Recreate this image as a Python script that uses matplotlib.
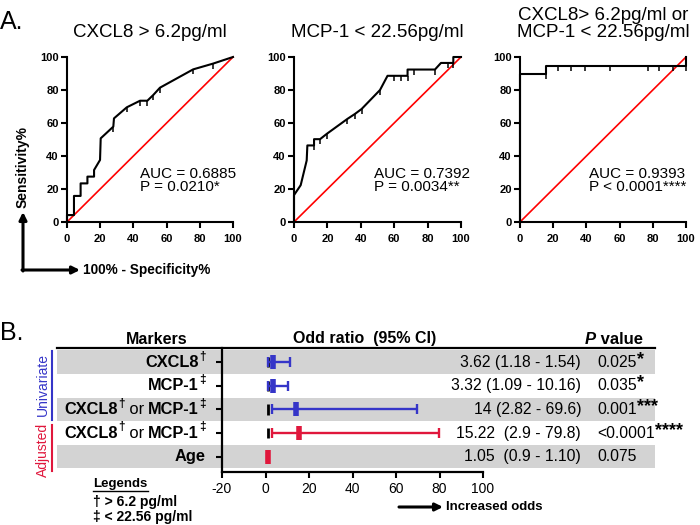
import matplotlib
matplotlib.use("Agg")
import matplotlib.pyplot as plt
from matplotlib.lines import Line2D

plt.rcParams['font.family'] = ['Liberation Sans', 'DejaVu Sans']
plt.rcParams['axes.unicode_minus'] = False

# ---- ROC data ----
cxcl8_fpr = [0, 0, 4.2, 4.2, 8.2, 8.2, 12.3, 12.3, 16.3, 16.3, 19.9, 20.3, 27.9, 28.3, 36, 44, 48.4, 52, 56, 76, 88, 100]
cxcl8_tpr = [0, 4.2, 4.2, 15.8, 15.8, 23.4, 23.4, 27.5, 27.5, 31.5, 37.6, 50.7, 57.8, 62.8, 69.5, 73.5, 73.5, 77, 81.4, 92.5, 96, 100]
cxcl8_marks = [12, 14, 15, 16, 17, 18, 19, 20]

mcp_fpr = [0, 0, 4, 7.6, 8, 12, 12, 15.6, 19.6, 32, 36.5, 40.5, 51.5, 56, 60, 64, 68, 68, 72, 84.4, 88, 92, 95.4, 95.4, 100]
mcp_tpr = [0, 16.3, 22.3, 37.3, 46.4, 46.4, 50.2, 50.2, 53.4, 62.5, 65.5, 68.5, 80, 88.6, 88.6, 88.6, 88.6, 92.4, 92.4, 92.4, 96.4, 96.4, 96.4, 100, 100]
mcp_marks = [5, 7, 8, 9, 10, 11, 12, 14, 15, 16, 18, 19, 21, 22]

comb_fpr = [0, 0, 15.7, 15.7, 23, 31, 39, 54, 77, 84, 92, 100, 100]
comb_tpr = [0, 89.5, 89.5, 94.3, 94.3, 94.3, 94.3, 94.3, 94.3, 94.3, 94.3, 94.3, 100]
comb_marks = [2, 4, 5, 6, 7, 8, 9, 10, 11]

roc_titles = ["CXCL8 > 6.2pg/ml", "MCP-1 < 22.56pg/ml", "CXCL8> 6.2pg/ml or\nMCP-1 < 22.56pg/ml"]
roc_auc = ["AUC = 0.6885", "AUC = 0.7392", "AUC = 0.9393"]
roc_p = ["P = 0.0210*", "P = 0.0034**", "P < 0.0001****"]

# ---- forest plot data ----
odds = [3.62, 3.32, 14, 15.22, 1.05]
ci_low = [1.18, 1.09, 2.82, 2.9, 0.9]
ci_high = [11.1, 10.16, 69.6, 79.8, 1.10]
ci_text = ["3.62 (1.18 - 1.54)", "3.32 (1.09 - 10.16)", "14 (2.82 - 69.6)", "15.22  (2.9 - 79.8)", "1.05  (0.9 - 1.10)"]
p_text = ["0.025", "0.035", "0.001", "<0.0001", "0.075"]
p_stars = ["*", "*", "***", "****", ""]
row_colors = ["#3535c8", "#3535c8", "#3535c8", "#e0173c", "#e0173c"]
row_labels = [
    [("CXCL8", "bold", 0), ("\u2020", "bold", 1)],
    [("MCP-1", "bold", 0), ("\u2021", "bold", 1)],
    [("CXCL8", "bold", 0), ("\u2020", "bold", 1), (" or ", "normal", 0), ("MCP-1", "bold", 0), ("\u2021", "bold", 1)],
    [("CXCL8", "bold", 0), ("\u2020", "bold", 1), (" or ", "normal", 0), ("MCP-1", "bold", 0), ("\u2021", "bold", 1)],
    [("Age", "bold", 0)],
]

W, H = 700, 525
def fx(px): return px / W
def fy(py): return 1 - py / H
def box(l, t, r, b): return [fx(l), fy(b), (r - l) / W, (b - t) / H]

fig = plt.figure(figsize=(7, 5.25), dpi=100)

# ================= A. ROC curves =================
lefts = [67, 294, 520]
rights = [233, 461, 686]
curves = [(cxcl8_fpr, cxcl8_tpr, cxcl8_marks), (mcp_fpr, mcp_tpr, mcp_marks), (comb_fpr, comb_tpr, comb_marks)]
stat_x = [44, 48, 41.6]

for i in range(3):
    ax = fig.add_axes(box(lefts[i], 57, rights[i], 222))
    fpr, tpr, mk = curves[i]
    ax.plot([0, 100], [0, 100], color="red", lw=1.2, clip_on=False)
    ax.plot(fpr, tpr, color="black", lw=1.5, marker=3, markevery=mk, ms=3.5, mew=1.1, clip_on=False)
    ax.set_xlim(0, 100)
    ax.set_ylim(0, 100)
    ax.set_xticks(range(0, 101, 20))
    ax.set_yticks(range(0, 101, 20))
    for s in ["top", "right"]:
        ax.spines[s].set_visible(False)
    for s in ["left", "bottom"]:
        ax.spines[s].set_linewidth(1.5)
    ax.tick_params(direction="out", length=4, width=1.5, labelsize=8, pad=2)
    ax.tick_params(axis="x", pad=5)
    for lab in ax.get_xticklabels() + ax.get_yticklabels():
        lab.set_fontweight("bold")
    ax.text(stat_x[i], 25.2, roc_auc[i] + "\n" + roc_p[i], fontsize=11, va="center", ha="left", linespacing=0.95)
    fig.text(fx((lefts[i] + rights[i]) / 2), fy(41), roc_titles[i], fontsize=13.5, ha="center", va="bottom", linespacing=1.0)

fig.text(fx(0), fy(22), "A.", fontsize=18, va="center", ha="left")
fig.text(fx(23), fy(167), "Sensitivity%", rotation=90, fontsize=10, fontweight="bold", ha="center", va="center")
arrow_kw = dict(arrowstyle="-|>", lw=2.2, color="black", mutation_scale=11, shrinkA=0, shrinkB=0)
fig.add_artist(matplotlib.patches.FancyArrowPatch((fx(23), fy(271)), (fx(23), fy(212)), transform=fig.transFigure, **arrow_kw))
fig.add_artist(matplotlib.patches.FancyArrowPatch((fx(22), fy(270)), (fx(80), fy(270)), transform=fig.transFigure, **arrow_kw))
fig.text(fx(83), fy(270), "100% - Specificity%", fontsize=9.8, fontweight="bold", ha="left", va="center")

# ================= B. forest plot =================
top, bot = 348, 472
ylim = (4.65, -0.6)
rows = list(range(len(odds)))

tab = fig.add_axes(box(57, top, 655, bot))
tab.set_xlim(57, 655)
tab.set_ylim(*ylim)
tab.axis("off")
for r in rows[::2]:
    tab.axhspan(r - 0.5, r + 0.5, color="#d3d3d3", lw=0)
tab.axhline(-0.6, color="black", lw=1.6, clip_on=False)

fig.text(fx(0), fy(333), "B.", fontsize=18, va="center", ha="left")
fig.text(fx(157), fy(339), "Markers", fontsize=11.5, fontweight="bold", ha="center", va="center")
fig.text(fx(365), fy(339), "Odd ratio  (95% CI)", fontsize=11.5, fontweight="bold", ha="center", va="center")
ptxt = fig.text(fx(585), fy(339), "P", fontsize=12, fontweight="bold", style="italic", ha="left", va="center")
tab.annotate(" value", xy=(1, 0.5), xycoords=ptxt, fontsize=12, fontweight="bold", ha="left", va="center", annotation_clip=False)

for r in rows:
    tab.text(581, r, ci_text[r], fontsize=11.3, ha="right", va="center")
    t = tab.text(597, r, p_text[r], fontsize=11.3, ha="left", va="center")
    if p_stars[r]:
        tab.annotate(p_stars[r], xy=(1, 0.5), xycoords=t, xytext=(0.5, 2), textcoords="offset points",
                     fontsize=13, fontweight="bold", ha="left", va="center", annotation_clip=False)

fo = fig.add_axes(box(222, top, 483, bot))
fo.patch.set_visible(False)
fo.set_xlim(-20, 100)
fo.set_ylim(*ylim)
fo.vlines([1] * len(rows), [r - 0.22 for r in rows], [r + 0.22 for r in rows], color="black", lw=2)
for r in rows:
    fo.errorbar(odds[r], r, xerr=[[odds[r] - ci_low[r]], [ci_high[r] - odds[r]]], fmt="none",
                ecolor=row_colors[r], elinewidth=1.7, capsize=3.5, capthick=1.7)
    fo.plot(odds[r], r, marker="|", ms=10, mew=4, color=row_colors[r])
for s in ["top", "right"]:
    fo.spines[s].set_visible(False)
for s in ["left", "bottom"]:
    fo.spines[s].set_linewidth(1.6)
fo.set_xticks(range(-20, 101, 20))
fo.set_yticks(rows)
fo.set_yticklabels([""] * len(rows))
fo.tick_params(direction="out", length=4, width=1.5, labelsize=10, pad=3)

# row labels with superscript daggers, built right to left
ytr = fo.get_yaxis_transform()
for r in rows:
    prev, prev_lvl = None, 0
    for txt, wt, lvl in reversed(row_labels[r]):
        fs = 8.5 if lvl else 11.8
        if prev is None:
            prev = fo.annotate(txt, xy=(-0.063, r), xycoords=ytr, xytext=(0, 4 * lvl), textcoords="offset points",
                               fontsize=fs, fontweight=wt, ha="right", va="center", annotation_clip=False)
        else:
            prev = fo.annotate(txt, xy=(0, 0.5), xycoords=prev, xytext=(0, 4 * (lvl - prev_lvl)), textcoords="offset points",
                               fontsize=fs, fontweight=wt, ha="right", va="center", annotation_clip=False)
        prev_lvl = lvl

# group labels
fig.add_artist(Line2D([fx(52), fx(52)], [fy(351), fy(420)], color="#3535c8", lw=1.5))
fig.add_artist(Line2D([fx(52), fx(52)], [fy(425), fy(471)], color="#e0173c", lw=1.5))
fig.text(fx(43), fy(385), "Univariate", rotation=90, color="#3535c8", fontsize=10, ha="center", va="center")
fig.text(fx(43), fy(450), "Adjusted", rotation=90, color="#e0173c", fontsize=10, ha="center", va="center")

# legend notes
fig.text(fx(93), fy(484), "Legends", fontsize=9.5, fontweight="bold", ha="left", va="center")
fig.add_artist(Line2D([fx(93), fx(148)], [fy(491), fy(491)], color="black", lw=1))
fig.text(fx(93), fy(502), "\u2020 > 6.2 pg/ml", fontsize=10, fontweight="bold", ha="left", va="center")
fig.text(fx(93), fy(517), "\u2021 < 22.56 pg/ml", fontsize=10, fontweight="bold", ha="left", va="center")

# increased odds arrow
fig.add_artist(matplotlib.patches.FancyArrowPatch((fx(399), fy(507)), (fx(443), fy(507)), transform=fig.transFigure, **arrow_kw))
fig.text(fx(446), fy(507), "Increased odds", fontsize=9.5, fontweight="bold", ha="left", va="center")

fig.savefig("out.png", dpi=100)
